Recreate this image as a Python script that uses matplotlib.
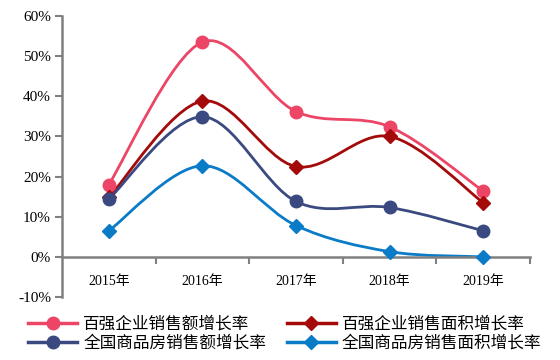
import numpy as np
import matplotlib.pyplot as plt
from matplotlib.path import Path
from matplotlib.patches import PathPatch
from matplotlib.lines import Line2D

plt.rcParams['font.family'] = ['Liberation Serif', 'Noto Sans CJK SC']

years = ['2015年', '2016年', '2017年', '2018年', '2019年']
top100_sales = [18.0, 53.5, 36.2, 32.4, 16.4]
top100_area = [14.8, 38.8, 22.5, 30.0, 13.5]
nation_sales = [14.4, 34.9, 13.8, 12.3, 6.5]
nation_area = [6.5, 22.7, 7.8, 1.3, 0.0]

names = ['百强企业销售额增长率', '百强企业销售面积增长率',
         '全国商品房销售额增长率', '全国商品房销售面积增长率']
colors = ['#EC4565', '#A50A0A', '#3A4A80', '#0A7BC6']
markers = ['o', 'D', 'o', 'D']
series = [top100_sales, top100_area, nation_sales, nation_area]


# geglättete Linie (wie Excel) als Bezier-Pfad
def smooth_path(xs, ys):
    pts = np.column_stack([xs, ys]).astype(float)
    n = len(pts)
    verts = [pts[0]]
    codes = [Path.MOVETO]
    for i in range(n - 1):
        p0 = pts[max(i - 1, 0)]
        p1 = pts[i]
        p2 = pts[i + 1]
        p3 = pts[min(i + 2, n - 1)]
        c1 = p1 + (p2 - p0) / 6
        c2 = p2 - (p3 - p1) / 6
        verts += [c1, c2, p2]
        codes += [Path.CURVE4] * 3
    return Path(verts, codes)


fig = plt.figure(figsize=(5.6, 3.6), dpi=100)
ax = fig.add_axes([62 / 560, 63 / 360, 468 / 560, 281 / 360])

x = np.arange(len(years))
for ys, c, m in zip(series, colors, markers):
    ax.add_patch(PathPatch(smooth_path(x, ys), fill=False, edgecolor=c, lw=2.0, zorder=2))
    ax.plot(x, ys, linestyle='none', marker=m, color=c,
            markersize=9 if m == 'o' else 7.5, zorder=3)

ax.set_xlim(-0.5, len(years) - 0.5)
ax.set_ylim(-10, 60)
ax.set_yticks(range(-10, 61, 10))
ax.set_yticklabels([f'{v}%' for v in range(-10, 61, 10)], fontsize=11)
ax.set_xticks(x)
ax.set_xticklabels(years, fontsize=11)
ax.set_xticks(np.arange(0.5, len(years), 1), minor=True)

for s in ['top', 'right']:
    ax.spines[s].set_visible(False)
ax.spines['bottom'].set_position(('data', 0))
ax.spines['bottom'].set_color('#808080')
ax.spines['bottom'].set_linewidth(1.8)
ax.spines['left'].set_color('#808080')
ax.spines['left'].set_linewidth(1.8)

ax.tick_params(axis='x', which='major', length=0, pad=13)
ax.tick_params(axis='x', which='minor', length=5, width=1.5, color='#808080', direction='out')
ax.tick_params(axis='y', length=5, width=1.5, color='#808080', direction='out', pad=3)

handles = [Line2D([], [], color=c, lw=2.5, marker=m,
                  markersize=9 if m == 'o' else 7.5)
           for c, m in zip(colors, markers)]
order = [0, 2, 1, 3]
fig.legend([handles[i] for i in order], [names[i] for i in order],
           loc='lower left', bbox_to_anchor=(28 / 560, 8 / 360), ncol=2,
           frameon=False, prop={'family': 'Noto Sans CJK SC', 'size': 12},
           handlelength=2.95, handletextpad=0.36, columnspacing=1.25,
           labelspacing=0.15, borderpad=0, borderaxespad=0)

fig.savefig('out.png', dpi=100)
